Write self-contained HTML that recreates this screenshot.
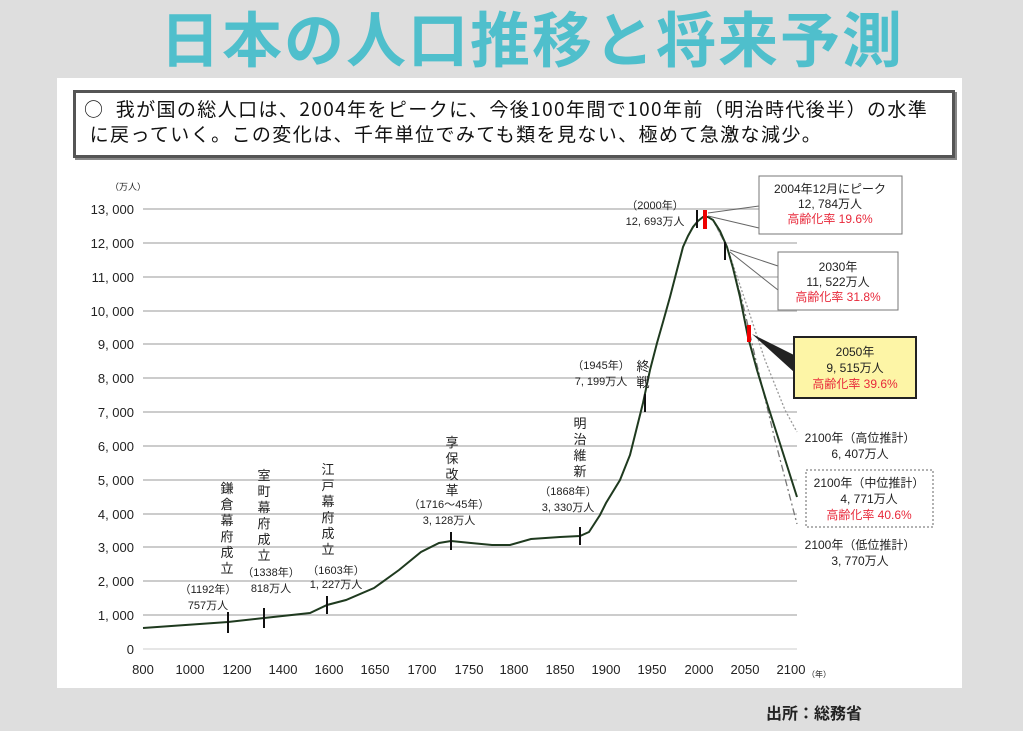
<!DOCTYPE html>
<html><head><meta charset="utf-8">
<style>
html,body{margin:0;padding:0;width:1023px;height:731px;overflow:hidden;background:#dedede;}
body{position:relative;font-family:"Liberation Sans","Noto Sans CJK JP",sans-serif;}
.title{position:absolute;left:100px;top:2px;width:864px;text-align:center;font-size:60px;font-weight:bold;color:#4fbfcc;letter-spacing:2px;font-family:"Noto Sans CJK JP","WenQuanYi Zen Hei",sans-serif;line-height:70px;white-space:nowrap;}
.panel{position:absolute;left:57px;top:78px;width:905px;height:610px;background:#fff;}
.box{position:absolute;left:73px;top:90px;border:3px solid #555;box-shadow:2px 2px 0 #888;background:#fff;font-size:19px;line-height:25px;padding:3px 0 0 8px;box-sizing:border-box;width:882px;height:68px;color:#111;font-family:"Noto Sans CJK JP",sans-serif;white-space:nowrap;letter-spacing:1.4px;}
.src{position:absolute;left:766px;top:700px;font-size:16px;font-weight:bold;color:#222;font-family:"Noto Sans CJK JP",sans-serif;}
svg{position:absolute;left:0;top:0;}
svg text{font-family:"Liberation Sans","Noto Sans CJK JP",sans-serif;fill:#222;}
</style></head><body>
<div class="title">日本の人口推移と将来予測</div>
<div class="panel"></div>
<div class="box">○&nbsp; 我が国の総人口は、2004年をピークに、今後100年間で100年前（明治時代後半）の水準<br>&nbsp;に戻っていく。この変化は、千年単位でみても類を見ない、極めて急激な減少。</div>
<svg width="1023" height="731" viewBox="0 0 1023 731">
<g stroke="#bbb" stroke-width="1.5">
<line x1="143" x2="797" y1="209" y2="209"/><line x1="143" x2="797" y1="243" y2="243"/>
<line x1="143" x2="797" y1="277" y2="277"/><line x1="143" x2="797" y1="311" y2="311"/>
<line x1="143" x2="797" y1="344" y2="344"/><line x1="143" x2="797" y1="378" y2="378"/>
<line x1="143" x2="797" y1="412" y2="412"/><line x1="143" x2="797" y1="446" y2="446"/>
<line x1="143" x2="797" y1="480" y2="480"/><line x1="143" x2="797" y1="514" y2="514"/>
<line x1="143" x2="797" y1="547" y2="547"/><line x1="143" x2="797" y1="581" y2="581"/>
<line x1="143" x2="797" y1="615" y2="615"/><line x1="143" x2="797" y1="649" y2="649" stroke="#ddd"/>
</g>
<g font-size="13" text-anchor="end">
<text x="134" y="214">13, 000</text><text x="134" y="248">12, 000</text><text x="134" y="282">11, 000</text>
<text x="134" y="316">10, 000</text><text x="134" y="349">9, 000</text><text x="134" y="383">8, 000</text>
<text x="134" y="417">7, 000</text><text x="134" y="451">6, 000</text><text x="134" y="485">5, 000</text>
<text x="134" y="519">4, 000</text><text x="134" y="552">3, 000</text><text x="134" y="586">2, 000</text>
<text x="134" y="620">1, 000</text><text x="134" y="654">0</text>
</g>
<text x="110" y="190" font-size="9">（万人）</text>
<g font-size="13" text-anchor="middle">
<text x="143" y="674">800</text><text x="190" y="674">1000</text><text x="237" y="674">1200</text>
<text x="283" y="674">1400</text><text x="329" y="674">1600</text><text x="375" y="674">1650</text>
<text x="422" y="674">1700</text><text x="469" y="674">1750</text><text x="514" y="674">1800</text>
<text x="560" y="674">1850</text><text x="606" y="674">1900</text><text x="652" y="674">1950</text>
<text x="699" y="674">2000</text><text x="745" y="674">2050</text><text x="791" y="674">2100</text>
</g>
<text x="807" y="677" font-size="8">（年）</text>
<polyline fill="none" stroke="#999" stroke-width="1.3" stroke-dasharray="2,2" points="713,220 727,247 745,300 765,360 785,410 797,432"/>
<polyline fill="none" stroke="#777" stroke-width="1.3" stroke-dasharray="7,3,2,3" points="713,220 727,247 742,300 757,365 775,440 797,524"/>
<polyline fill="none" stroke="#1f3a1f" stroke-width="2" points="143,628 228,622 264,618 310,613 327,605 346,600 374,588 399,570 421,552 439,543 451,541 471,543 492,545 510,545 531,539 560,537 580,536 589,532 600,515 606,503 620,480 630,455 643,403 650,370 657,343 663,322 670,297 677,270 683,247 688,236 693,227 698,221 703,217 708,217 713,220 720,231 727,247 733,268 740,297 748,337 757,370 767,403 775,428 783,453 790,475 797,497"/>
<g stroke="#111" stroke-width="2">
<line x1="228" x2="228" y1="612" y2="633"/><line x1="264" x2="264" y1="608" y2="628"/>
<line x1="327" x2="327" y1="596" y2="614"/><line x1="451" x2="451" y1="532" y2="550"/>
<line x1="580" x2="580" y1="527" y2="545"/><line x1="645" x2="645" y1="394" y2="412"/>
<line x1="697" x2="697" y1="210" y2="228"/><line x1="725" x2="725" y1="242" y2="260"/>
</g>
<g stroke="#e00" stroke-width="4"><line x1="705" x2="705" y1="210" y2="229"/><line x1="749" x2="749" y1="325" y2="342"/></g>
<g font-size="13" text-anchor="middle" font-family="Noto Sans CJK JP">
<text x="227" y="493">鎌</text><text x="227" y="509">倉</text><text x="227" y="525">幕</text><text x="227" y="541">府</text><text x="227" y="557">成</text><text x="227" y="573">立</text>
<text x="264" y="480">室</text><text x="264" y="496">町</text><text x="264" y="512">幕</text><text x="264" y="528">府</text><text x="264" y="544">成</text><text x="264" y="560">立</text>
<text x="328" y="474">江</text><text x="328" y="490">戸</text><text x="328" y="506">幕</text><text x="328" y="522">府</text><text x="328" y="538">成</text><text x="328" y="554">立</text>
<text x="452" y="447">享</text><text x="452" y="463">保</text><text x="452" y="479">改</text><text x="452" y="495">革</text>
<text x="580" y="428">明</text><text x="580" y="444">治</text><text x="580" y="460">維</text><text x="580" y="476">新</text>
<text x="643" y="371">終</text><text x="643" y="387">戦</text>
</g>
<g font-size="11" text-anchor="middle">
<text x="208" y="593">（1192年）</text><text x="208" y="609">757万人</text>
<text x="271" y="576">（1338年）</text><text x="271" y="592">818万人</text>
<text x="336" y="574">（1603年）</text><text x="336" y="588">1, 227万人</text>
<text x="449" y="508">（1716～45年）</text><text x="449" y="524">3, 128万人</text>
<text x="568" y="495">（1868年）</text><text x="568" y="511">3, 330万人</text>
<text x="601" y="369">（1945年）</text><text x="601" y="385">7, 199万人</text>
<text x="655" y="209">（2000年）</text><text x="655" y="225">12, 693万人</text>
</g>
<g stroke="#666" stroke-width="1" fill="none">
<polyline points="708,213 759,206"/><polyline points="708,216 759,228"/>
<polyline points="730,250 778,266"/><polyline points="730,252 778,290"/>
</g>
<polygon points="752,334 794,355 794,372" fill="#222"/>
<rect x="759" y="176" width="143" height="58" fill="#fff" stroke="#777"/>
<rect x="778" y="252" width="120" height="58" fill="#fff" stroke="#777"/>
<rect x="794" y="337" width="122" height="61" fill="#fdf5a6" stroke="#222" stroke-width="2"/>
<rect x="806" y="470" width="127" height="57" fill="#fff" stroke="#666" stroke-dasharray="2,2"/>
<g font-size="12" text-anchor="middle">
<text x="830" y="193">2004年12月にピーク</text><text x="830" y="208">12, 784万人</text><text x="830" y="223" style="fill:#e8283a">高齢化率 19.6%</text>
<text x="838" y="271">2030年</text><text x="838" y="286">11, 522万人</text><text x="838" y="301" style="fill:#e8283a">高齢化率 31.8%</text>
<text x="855" y="356">2050年</text><text x="855" y="372">9, 515万人</text><text x="855" y="388" style="fill:#e8283a">高齢化率 39.6%</text>
<text x="860" y="442">2100年（高位推計）</text><text x="860" y="458">6, 407万人</text>
<text x="869" y="487">2100年（中位推計）</text><text x="869" y="503">4, 771万人</text><text x="869" y="519" style="fill:#e8283a">高齢化率 40.6%</text>
<text x="860" y="549">2100年（低位推計）</text><text x="860" y="565">3, 770万人</text>
</g>
</svg>
<div class="src">出所：総務省</div>
</body></html>
